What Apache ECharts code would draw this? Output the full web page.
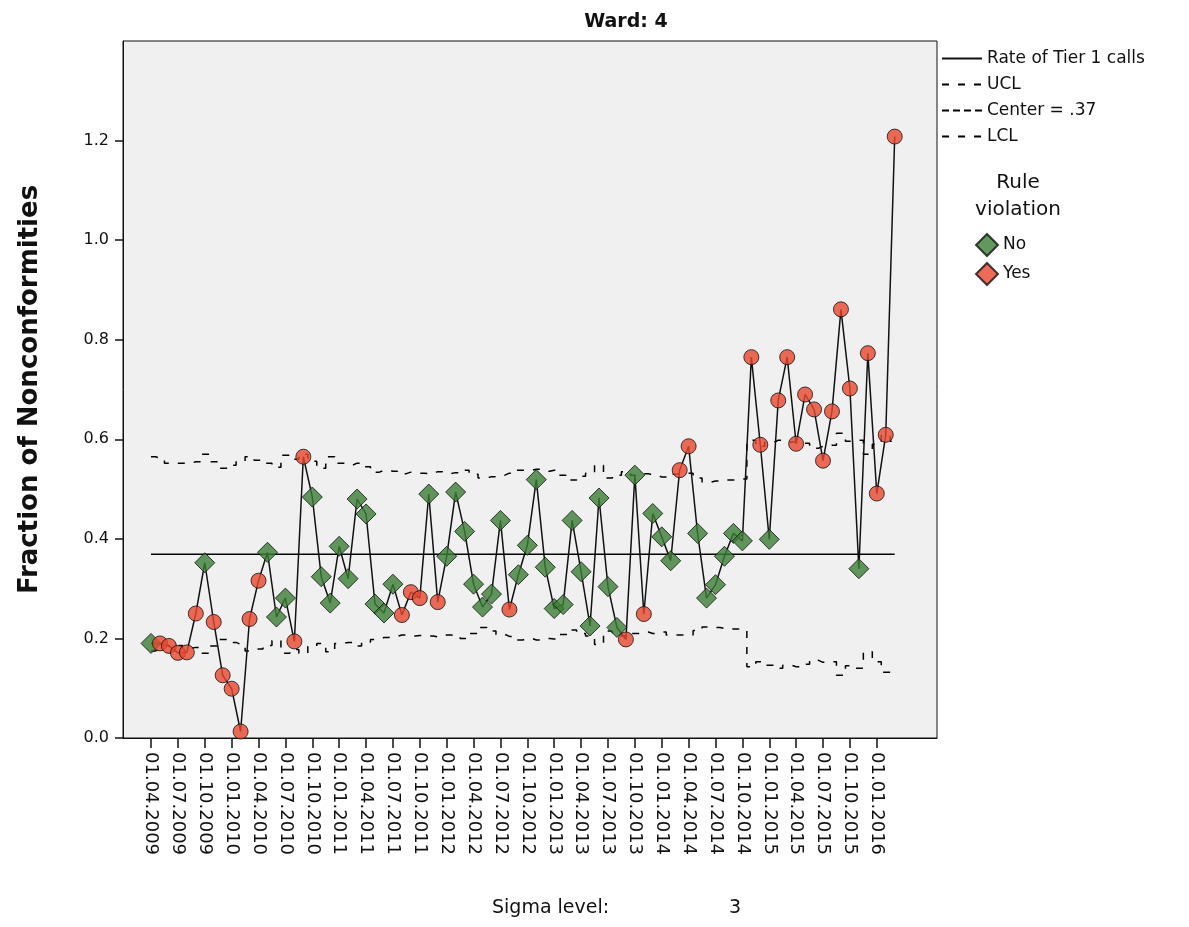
<!DOCTYPE html>
<html>
<head>
<meta charset="utf-8">
<title>Ward: 4</title>
<script src="https://cdn.jsdelivr.net/npm/echarts@6/dist/echarts.min.js"></script>
<style>
  html, body { margin: 0; padding: 0; background: #fff; }
  #chart { width: 1189px; height: 927px; }
</style>
</head>
<body>
<div id="chart"></div>
<script>
// one point per month, 01.04.2009 .. 01.03.2016
const rate = [
  0.19, 0.19, 0.185, 0.171, 0.172, 0.25, 0.352, 0.233, 0.126, 0.099,
  0.013, 0.239, 0.316, 0.373, 0.243, 0.281, 0.194, 0.565, 0.484, 0.324,
  0.271, 0.385, 0.32, 0.48, 0.45, 0.269, 0.251, 0.309, 0.247, 0.293,
  0.281, 0.49, 0.273, 0.365, 0.494, 0.415, 0.309, 0.263, 0.289, 0.437,
  0.258, 0.328, 0.387, 0.519, 0.343, 0.26, 0.268, 0.437, 0.334, 0.225,
  0.482, 0.304, 0.222, 0.198, 0.528, 0.249, 0.451, 0.404, 0.356, 0.538,
  0.586, 0.411, 0.281, 0.308, 0.365, 0.411, 0.396, 0.765, 0.589, 0.399,
  0.678, 0.765, 0.591, 0.69, 0.66, 0.557, 0.656, 0.861, 0.702, 0.34,
  0.773, 0.491, 0.609, 1.208
]

// 1 = rule violation (red circle), 0 = no violation (green diamond)
const violation = [
  0, 1, 1, 1, 1, 1, 0, 1, 1, 1,
  1, 1, 1, 0, 0, 0, 1, 1, 0, 0,
  0, 0, 0, 0, 0, 0, 0, 0, 1, 1,
  1, 0, 1, 0, 0, 0, 0, 0, 0, 0,
  1, 0, 0, 0, 0, 0, 0, 0, 0, 0,
  0, 0, 0, 1, 0, 1, 0, 0, 0, 1,
  1, 0, 0, 0, 0, 0, 0, 1, 1, 0,
  1, 1, 1, 1, 1, 1, 1, 1, 1, 0,
  1, 1, 1, 1
]

const ucl = [
  0.565, 0.562, 0.552, 0.552, 0.552, 0.555, 0.570, 0.555, 0.542, 0.548,
  0.555, 0.565, 0.558, 0.552, 0.544, 0.568, 0.560, 0.570, 0.556, 0.542,
  0.565, 0.552, 0.548, 0.552, 0.545, 0.534, 0.538, 0.536, 0.531, 0.534,
  0.532, 0.531, 0.535, 0.531, 0.533, 0.538, 0.530, 0.522, 0.525, 0.528,
  0.532, 0.538, 0.538, 0.540, 0.536, 0.538, 0.528, 0.518, 0.526, 0.532,
  0.548, 0.522, 0.528, 0.535, 0.528, 0.531, 0.528, 0.524, 0.530, 0.531,
  0.532, 0.522, 0.514, 0.516, 0.518, 0.518, 0.520, 0.598, 0.586, 0.594,
  0.598, 0.594, 0.596, 0.592, 0.582, 0.586, 0.588, 0.612, 0.596, 0.598,
  0.570, 0.590, 0.608, 0.596
]

const lcl = [
  0.175, 0.178, 0.186, 0.186, 0.180, 0.182, 0.170, 0.185, 0.198, 0.192,
  0.188, 0.175, 0.179, 0.186, 0.196, 0.170, 0.178, 0.170, 0.184, 0.190,
  0.173, 0.190, 0.192, 0.185, 0.193, 0.198, 0.202, 0.204, 0.207, 0.205,
  0.206, 0.205, 0.203, 0.207, 0.205, 0.200, 0.210, 0.222, 0.215, 0.208,
  0.204, 0.197, 0.200, 0.197, 0.200, 0.199, 0.208, 0.217, 0.210, 0.205,
  0.188, 0.215, 0.210, 0.205, 0.210, 0.213, 0.210, 0.213, 0.207, 0.207,
  0.207, 0.216, 0.223, 0.222, 0.220, 0.219, 0.218, 0.143, 0.153, 0.146,
  0.140, 0.146, 0.143, 0.148, 0.156, 0.152, 0.153, 0.126, 0.145, 0.140,
  0.173, 0.153, 0.132, 0.140
]

const center = 0.369

const tickLabels = [
  '01.04.2009', '01.07.2009', '01.10.2009', '01.01.2010', '01.04.2010',
  '01.07.2010', '01.10.2010', '01.01.2011', '01.04.2011', '01.07.2011',
  '01.10.2011', '01.01.2012', '01.04.2012', '01.07.2012', '01.10.2012',
  '01.01.2013', '01.04.2013', '01.07.2013', '01.10.2013', '01.01.2014',
  '01.04.2014', '01.07.2014', '01.10.2014', '01.01.2015', '01.04.2015',
  '01.07.2015', '01.10.2015', '01.01.2016'
]
const tickMonths = tickLabels.map((_, i) => i * 3)
const yTicks = [0, 0.2, 0.4, 0.6, 0.8, 1.0, 1.2]

const FONT = 'DejaVu Sans'
const GREEN = '#3b7d35'
const RED = '#e8472e'

const pts = rate.map((v, i) => [i, v])
const noPts = pts.filter((_, i) => !violation[i])
const yesPts = pts.filter((_, i) => violation[i])
const last = rate.length - 1

const dashed = { color: '#000', width: 1.5, type: [7, 9] }

const chart = echarts.init(document.getElementById('chart'), null, { renderer: 'canvas' })

const option = {
  animation: false,
  backgroundColor: '#fff',
  textStyle: { fontFamily: FONT, color: '#000' },
  title: {
    text: 'Ward: 4',
    left: 621,
    textAlign: 'center',
    top: 8,
    textStyle: { fontFamily: FONT, fontWeight: 'bold', fontSize: 19, color: '#111' }
  },
  grid: {
    left: 123,
    top: 41,
    width: 814,
    height: 697,
    show: true,
    backgroundColor: '#f0f0f0',
    borderColor: '#111',
    borderWidth: 1
  },
  xAxis: {
    type: 'value',
    min: -3.125,
    max: 87.72,
    splitLine: { show: false },
    axisLine: { show: true, onZero: false, lineStyle: { color: '#111', width: 1 } },
    axisTick: { show: true, length: 10, customValues: tickMonths, lineStyle: { color: '#111', width: 1.5 } },
    axisLabel: {
      customValues: tickMonths,
      rotate: -90,
      margin: 14,
      fontFamily: FONT,
      fontSize: 18,
      color: '#111',
      formatter: v => tickLabels[Math.round(v / 3)] || ''
    }
  },
  yAxis: {
    type: 'value',
    min: 0,
    max: 1.4,
    name: 'Fraction of Nonconformities',
    nameLocation: 'middle',
    nameGap: 80,
    nameTextStyle: { fontFamily: FONT, fontWeight: 'bold', fontSize: 26, color: '#111' },
    splitLine: { show: false },
    axisLine: { show: true, onZero: false, lineStyle: { color: '#111', width: 1 } },
    axisTick: { show: true, length: 8, customValues: yTicks, lineStyle: { color: '#111', width: 1.5 } },
    axisLabel: {
      customValues: yTicks,
      margin: 14,
      fontFamily: FONT,
      fontSize: 16,
      color: '#111',
      formatter: v => v.toFixed(1)
    }
  },
  legend: [
    {
      orient: 'vertical',
      left: 941,
      top: 50,
      padding: 0,
      itemWidth: 40,
      itemHeight: 16,
      itemGap: 9,
      selectedMode: false,
      itemStyle: { opacity: 0 },
      textStyle: { fontFamily: FONT, fontSize: 17, color: '#111' },
      data: [
        { name: 'Rate of Tier 1 calls' },
        { name: 'UCL' },
        { name: 'Center = .37', lineStyle: { type: [7, 4] } },
        { name: 'LCL' }
      ]
    },
    {
      orient: 'vertical',
      left: 975,
      top: 233,
      padding: 0,
      itemWidth: 22,
      itemHeight: 22,
      itemGap: 5,
      selectedMode: false,
      textStyle: { fontFamily: FONT, fontSize: 17, color: '#111' },
      data: [
        { name: 'No', icon: 'diamond' },
        { name: 'Yes', icon: 'diamond' }
      ]
    }
  ],
  graphic: [
    {
      type: 'text',
      x: 1018,
      y: 169,
      style: {
        text: 'Rule\nviolation',
        fontFamily: FONT,
        fontSize: 20,
        lineHeight: 27,
        align: 'center',
        fill: '#111'
      }
    },
    {
      type: 'text',
      left: 492,
      top: 899,
      style: { text: 'Sigma level:', fontFamily: FONT, fontSize: 19, fill: '#111' }
    },
    {
      type: 'text',
      left: 729,
      top: 899,
      style: { text: '3', fontFamily: FONT, fontSize: 19, fill: '#111' }
    }
  ],
  series: [
    {
      name: 'UCL',
      type: 'line',
      step: 'middle',
      symbol: 'none',
      lineStyle: dashed,
      itemStyle: { color: '#000' },
      data: ucl.map((v, i) => [i, v]),
      z: 1
    },
    {
      name: 'LCL',
      type: 'line',
      step: 'middle',
      symbol: 'none',
      lineStyle: dashed,
      itemStyle: { color: '#000' },
      data: lcl.map((v, i) => [i, v]),
      z: 1
    },
    {
      name: 'Center = .37',
      type: 'line',
      symbol: 'none',
      lineStyle: { color: '#000', width: 1.5 },
      itemStyle: { color: '#000' },
      data: [[0, center], [last, center]],
      z: 1
    },
    {
      name: 'Rate of Tier 1 calls',
      type: 'line',
      symbol: 'none',
      lineStyle: { color: '#111', width: 1.5 },
      itemStyle: { color: '#000' },
      data: pts,
      z: 2
    },
    {
      name: 'No',
      type: 'scatter',
      symbol: 'diamond',
      symbolSize: 20,
      itemStyle: { color: GREEN, borderColor: '#111', borderWidth: 1 },
      data: noPts,
      z: 3
    },
    {
      name: 'Yes',
      type: 'scatter',
      symbol: 'circle',
      symbolSize: 15,
      itemStyle: { color: RED, borderColor: '#111', borderWidth: 1 },
      data: yesPts,
      z: 3
    }
  ]
}

chart.setOption(option)
window.addEventListener('resize', () => chart.resize())
</script>
</body>
</html>
